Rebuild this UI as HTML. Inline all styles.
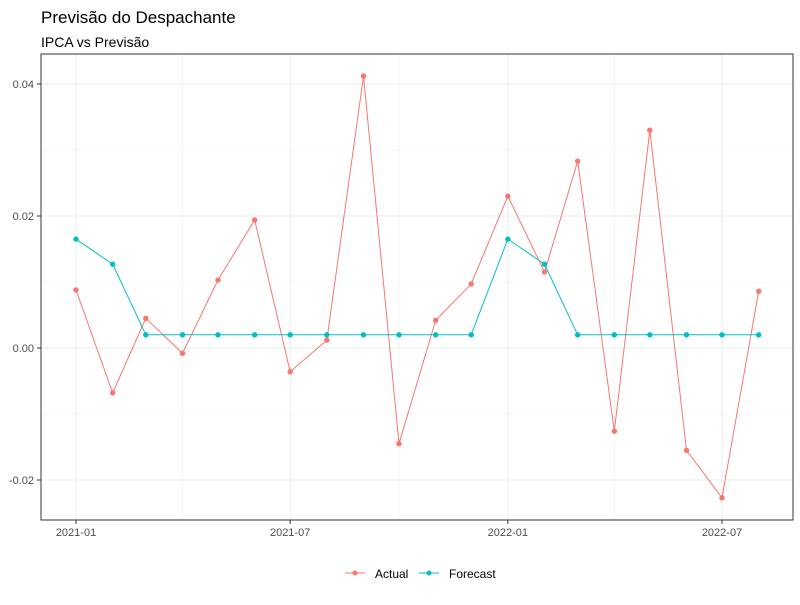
<!DOCTYPE html>
<html><head><meta charset="utf-8"><style>
body{margin:0;background:#fff;font-family:"Liberation Sans",Arial,sans-serif}
</style></head><body>
<svg id="chart" width="800" height="600" xmlns="http://www.w3.org/2000/svg">
<text x="41" y="23" font-size="17" fill="#000">Previsão do Despachante</text>
<text x="41" y="47" font-size="14" fill="#000">IPCA vs Previsão</text>
<g id="grid"></g><g id="series"></g><g id="axes"></g>
<rect x="41" y="54" width="752" height="466" fill="none" stroke="#333" stroke-width="1"/>
<g>
<g>
<line x1="345" y1="573" x2="365" y2="573" stroke="#F8766D"/><circle cx="355" cy="573" r="2.5" fill="#F8766D"/>
<text x="375" y="578" font-size="12" fill="#000">Actual</text></g>
<g>
<line x1="419" y1="573" x2="439" y2="573" stroke="#00BFC4"/><circle cx="429" cy="573" r="2.5" fill="#00BFC4"/>
<text x="449" y="578" font-size="12" fill="#000">Forecast</text></g>
</g>
</svg>
<script>
const months=["2021-01","2021-02","2021-03","2021-04","2021-05","2021-06","2021-07","2021-08","2021-09","2021-10","2021-11","2021-12","2022-01","2022-02","2022-03","2022-04","2022-05","2022-06","2022-07","2022-08"];
const actual=[0.0088,-0.0068,0.0045,-0.0008,0.0103,0.0194,-0.0036,0.0012,0.0412,-0.0145,0.0042,0.0097,0.0230,0.0115,0.0283,-0.0126,0.0330,-0.0155,-0.0227,0.0086];
const forecast=[0.0165,0.0127,0.0020,0.0020,0.0020,0.0020,0.0020,0.0020,0.0020,0.0020,0.0020,0.0020,0.0165,0.0127,0.0020,0.0020,0.0020,0.0020,0.0020,0.0020];
const yTicks=[-0.02,0.00,0.02,0.04];
const yTickLabels=["-0.02","0.00","0.02","0.04"];
const yMinor=[-0.01,0.01,0.03];
const xTicks=["2021-01","2021-07","2022-01","2022-07"];
const xMinor=["2021-04","2021-10","2022-04"];
const NS="http://www.w3.org/2000/svg";
const d0=Date.parse("2021-01-01"),d1=Date.parse("2022-07-01");
function x(m){return 76+(Date.parse(m+"-01")-d0)/(d1-d0)*(722-76);}
function y(v){return 348-v*6600;}
function mk(tag,attrs,parent){const e=document.createElementNS(NS,tag);for(const k in attrs)e.setAttribute(k,attrs[k]);parent.appendChild(e);return e;}
const grid=document.getElementById("grid"),axes=document.getElementById("axes"),ser=document.getElementById("series");
mk("rect",{x:41,y:54,width:752,height:466,fill:"#fff"},grid);
yMinor.forEach(v=>{const l=mk("line",{x1:41,x2:793,y1:y(v),y2:y(v),stroke:"#ebebeb","stroke-width":0.5},grid);

});
xMinor.forEach(m=>{const l=mk("line",{x1:x(m),x2:x(m),y1:54,y2:520,stroke:"#ebebeb","stroke-width":0.5},grid);

});
yTicks.forEach((v,i)=>{const l=mk("line",{x1:41,x2:793,y1:y(v),y2:y(v),stroke:"#ebebeb","stroke-width":1},grid);


mk("line",{x1:37,x2:41,y1:y(v),y2:y(v),stroke:"#333"},axes);
const t=mk("text",{x:34,y:y(v)+4,"text-anchor":"end","font-size":11,fill:"#4d4d4d"},axes);t.textContent=yTickLabels[i];

});
xTicks.forEach(m=>{const l=mk("line",{x1:x(m),x2:x(m),y1:54,y2:520,stroke:"#ebebeb","stroke-width":1},grid);


mk("line",{x1:x(m),x2:x(m),y1:520,y2:524,stroke:"#333"},axes);
const t=mk("text",{x:x(m),y:536,"text-anchor":"middle","font-size":11,fill:"#4d4d4d"},axes);t.textContent=m;

});
function draw(vals,color,name){
const p=mk("polyline",{points:vals.map((v,i)=>x(months[i])+","+y(v)).join(" "),fill:"none",stroke:color,"stroke-width":1},ser);


vals.forEach((v,i)=>{const c=mk("circle",{cx:x(months[i]),cy:y(v),r:2.7,fill:color},ser);

});}
draw(actual,"#F8766D","actual");
draw(forecast,"#00BFC4","forecast");
</script>
</body></html>
